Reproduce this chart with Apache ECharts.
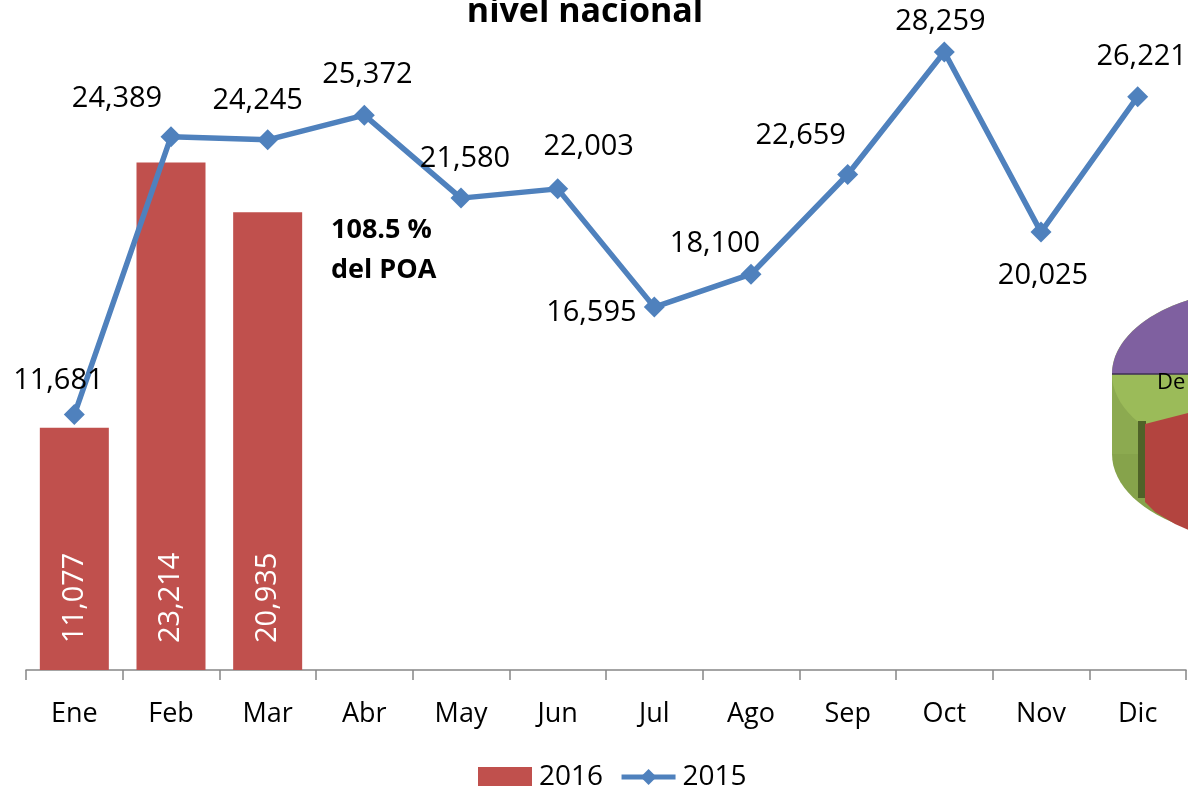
<!DOCTYPE html>
<html>
<head>
<meta charset="utf-8">
<script src="https://cdn.jsdelivr.net/npm/echarts@6/dist/echarts.min.js"></script>
<style>html,body{margin:0;padding:0;background:#fff}#c{width:1188px;height:786px}</style>
</head>
<body>
<div id="c"></div>
<script>
const months = ['Ene','Feb','Mar','Abr','May','Jun','Jul','Ago','Sep','Oct','Nov','Dic'];
const values2016 = [11077, 23214, 20935];
const values2015 = [11681, 24389, 24245, 25372, 21580, 22003, 16595, 18100, 22659, 28259, 20025, 26221];
const seriesNames = ['2016', '2015'];
const titleText = 'nivel nacional';
const noteText = '108.5 %\ndel POA';

// label placement (style only)
const labelOffsets2015 = [[-16,-34],[-54,-38],[-10,-39],[3,-40],[4,-39],[31,-42],[-63,6],[-36,-30],[-47,-39],[-4,-30],[2,44],[4,-40]];

const FONT = 'Open Sans';
const chart = echarts.init(document.getElementById('c'), null, {renderer:'canvas'});
const fmt = v => v.toLocaleString('en-US');

// upper half of pie top ellipse (decoration)
const halfEllipse = [];
for (let k = 0; k <= 60; k++) {
  const a = Math.PI + Math.PI * k / 60;
  halfEllipse.push([1262 + 150 * Math.cos(a), 374 + 85 * Math.sin(a)]);
}

chart.setOption({
  animation: false,
  backgroundColor: '#ffffff',
  grid: {left: 26, right: 2, top: 14, bottom: 116},
  xAxis: {
    type: 'category',
    data: months,
    boundaryGap: true,
    axisLine: {lineStyle: {color: '#868686', width: 1.5}},
    axisTick: {show: true, length: 10, lineStyle: {color: '#868686', width: 1.5}},
    axisLabel: {color: '#000', fontFamily: FONT, fontSize: 27, margin: 31}
  },
  yAxis: {
    type: 'value', min: 0, max: 30000, show: false,
    splitLine: {show: false}
  },
  legend: {
    left: 478, top: 763, padding: 0, itemGap: 16,
    itemWidth: 54, itemHeight: 20,
    textStyle: {fontFamily: FONT, fontSize: 28, color: '#000', padding: [0,0,0,2]},
    data: [
      {name: seriesNames[0], icon: 'rect', itemStyle: {color: '#C0504D'}},
      {name: seriesNames[1], lineStyle: {width: 5, color: '#4F81BD'}, itemStyle: {color: '#4F81BD'}}
    ]
  },
  series: [
    {
      name: seriesNames[0],
      type: 'bar',
      data: values2016,
      barWidth: 69,
      itemStyle: {color: '#C0504D'},
      label: {
        show: true, position: 'insideBottom', distance: 27,
        rotate: 90, align: 'left', verticalAlign: 'middle',
        color: '#fff', fontFamily: FONT, fontSize: 29,
        formatter: p => fmt(p.value)
      },
      z: 2
    },
    {
      name: seriesNames[1],
      type: 'line',
      data: values2015.map((v, i) => ({value: v, label: {offset: labelOffsets2015[i]}})),
      symbol: 'diamond',
      symbolSize: 21,
      lineStyle: {color: '#4F81BD', width: 5.5},
      itemStyle: {color: '#4F81BD'},
      label: {
        show: true, position: 'inside', align: 'center', verticalAlign: 'middle',
        color: '#000', fontFamily: FONT, fontSize: 29,
        formatter: p => fmt(p.value)
      },
      z: 3
    }
  ],
  graphic: [
    {type: 'text', x: 585, y: 12, z: 10, silent: true,
     style: {text: titleText, fill: '#000', font: 'bold 34px "Open Sans"', align: 'center', verticalAlign: 'middle'}},
    {type: 'text', x: 331, y: 210, z: 10, silent: true,
     style: {text: noteText, fill: '#000', font: 'bold 27px "Open Sans"', lineHeight: 40, align: 'left', verticalAlign: 'top'}},
    {type: 'ellipse', z: 1, silent: true, shape: {cx: 1262, cy: 454, rx: 150, ry: 85}, style: {fill: '#86A34B'}},
    {type: 'rect', z: 1, silent: true, shape: {x: 1112, y: 374, width: 300, height: 80}, style: {fill: '#8CAA50'}},
    {type: 'ellipse', z: 1, silent: true, shape: {cx: 1262, cy: 374, rx: 150, ry: 85}, style: {fill: '#9BBB59'}},
    {type: 'polygon', z: 1, silent: true, shape: {points: halfEllipse}, style: {fill: '#7F60A0'}},
    {type: 'line', z: 1, silent: true, shape: {x1: 1112, y1: 374, x2: 1188, y2: 374}, style: {stroke: '#3E2E55', lineWidth: 1.5}},
    {type: 'rect', z: 1, silent: true, shape: {x: 1138, y: 421, width: 8, height: 77}, style: {fill: '#4F6228'}},
    {type: 'polygon', z: 1, silent: true, shape: {points: [[1145,424],[1200,410],[1200,535],[1175,524],[1155,512],[1145,502]]}, style: {fill: '#B3443F'}},
    {type: 'text', z: 1, silent: true, x: 1157, y: 383, style: {text: 'De', fill: '#000', font: '22px "Open Sans"', verticalAlign: 'middle'}}
  ]
});
</script>
</body>
</html>
